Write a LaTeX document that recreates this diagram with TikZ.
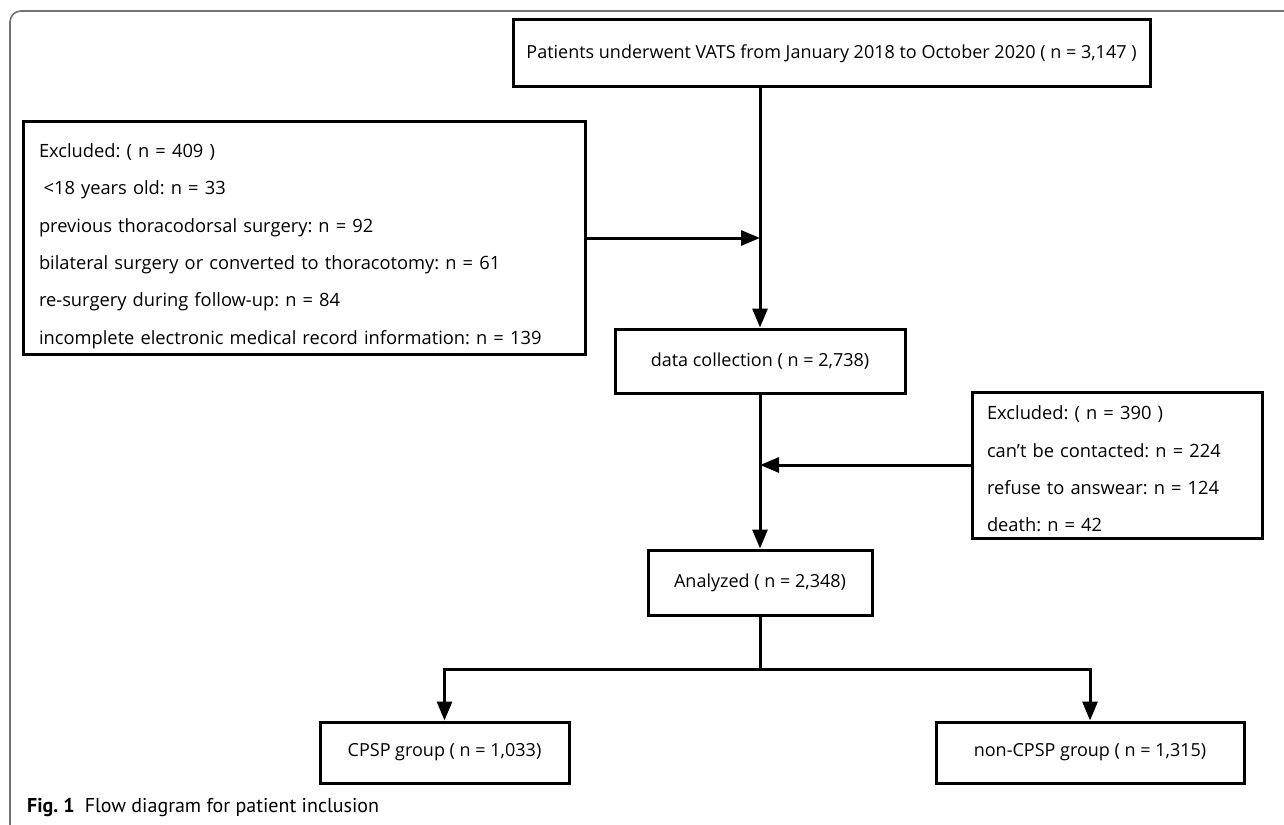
\documentclass[tikz,border=0pt]{standalone}
\usepackage{fontspec}
\setmainfont{Open Sans}
\newfontfamily\capfont{PT Sans}
\usetikzlibrary{arrows.meta}
\frenchspacing
\begin{document}
\begin{tikzpicture}[x=1pt,y=-1pt,
  box/.style={draw=black, line width=3pt, inner sep=0pt, font=\fontsize{18}{21}\selectfont},
  listbox/.style={box, align=left, inner xsep=15pt, font=\fontsize{18.3}{37.3}\selectfont},
  arr/.style={draw=black, line width=3pt, -{Triangle[length=19pt,width=15pt]}},
  link/.style={draw=black, line width=3pt},
  frame/.style={draw=black!55, line width=1.6pt, rounded corners=11pt}]
\useasboundingbox (0,0) rectangle (1284,824);
\begin{scope}
  \clip (0,0) rectangle (1284,824);
  \draw[frame] (1300,11) -- (10,11) -- (10,836) -- (40,836);
\end{scope}

\node[box, minimum width=637pt, minimum height=67pt] (top) at (831.5,53.5)
  {Patients underwent VATS from January 2018 to October 2020 ( n = 3,147 )};
\node[listbox, minimum width=562pt, minimum height=232pt, text width=530pt] (ex1) at (304,238)
  {\rule{0pt}{30pt}Excluded: ( n = 409 )\\
   \hspace{0.25em}<18 years old: n = 33\\
   previous thoracodorsal surgery: n = 92\\
   bilateral surgery or converted to thoracotomy: n = 61\\
   re-surgery during follow-up: n = 84\\
   incomplete electronic medical record information: n = 139};
\node[box, minimum width=290pt, minimum height=64pt] (dc) at (760,361)
  {data collection ( n = 2,738)};
\node[listbox, minimum width=290pt, minimum height=146pt, text width=260pt] (ex2) at (1117,465)
  {\rule{0pt}{22pt}Excluded: ( n = 390 )\\
   can't be contacted: n = 224\\
   refuse to answear: n = 124\\
   death: n = 42};
\node[box, minimum width=224pt, minimum height=65pt] (an) at (760,582.5)
  {Analyzed ( n = 2,348)};
\node[box, minimum width=249pt, minimum height=61pt] (cpsp) at (444.5,752.5)
  {CPSP group ( n = 1,033)};
\node[box, minimum width=308pt, minimum height=61pt] (non) at (1090,752.5)
  {non-CPSP group ( n = 1,315)};

\coordinate (m1) at (ex1.east -| dc.north);
\coordinate (m2) at (ex2.west -| dc.south);
\coordinate (j) at (760,669);

\draw[arr] (top.south -| dc.north) -- (dc.north);
\draw[arr] (ex1.east) -- (m1);
\draw[arr] (dc.south) -- (an.north);
\draw[arr] (ex2.west) -- (m2);
\draw[link] (an.south) -- (j);
\draw[arr] (j) -| (cpsp.north);
\draw[arr] (j) -| (non.north);

\node[anchor=base west, inner sep=0pt, font=\capfont\fontsize{20}{23}\selectfont] (cap) at (27,812)
  {\textbf{Fig. 1}\hspace{0.5em}Flow diagram for patient inclusion};
\end{tikzpicture}
\end{document}
